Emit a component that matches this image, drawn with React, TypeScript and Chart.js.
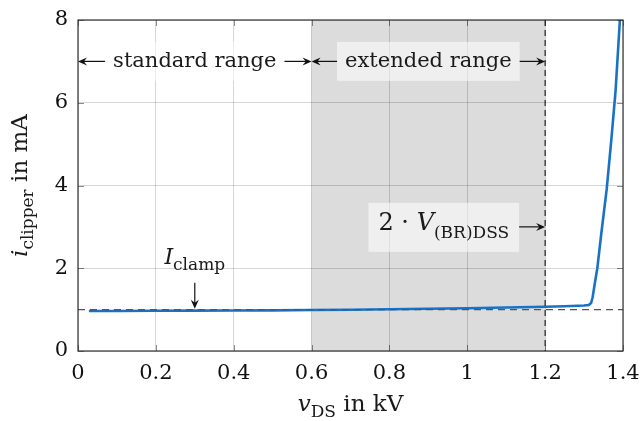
import React, { useEffect, useRef } from "react";
import { Chart, registerables } from "chart.js";

Chart.register(...registerables);

// ---- data ----
const vDS = [0.028, 0.1, 0.2, 0.3, 0.4, 0.5, 0.6, 0.7, 0.8, 0.9, 1.0, 1.1, 1.2, 1.25, 1.3, 1.312, 1.318, 1.322, 1.327, 1.334, 1.345, 1.358, 1.37, 1.381, 1.392];
const iClipper = [0.965, 0.968, 0.972, 0.975, 0.978, 0.983, 0.99, 0.998, 1.008, 1.02, 1.033, 1.05, 1.07, 1.082, 1.098, 1.11, 1.16, 1.3, 1.6, 2.0, 2.9, 3.9, 5.1, 6.3, 8.0];
const xTicks = [0, 0.2, 0.4, 0.6, 0.8, 1, 1.2, 1.4];
const yTicks = [0, 2, 4, 6, 8];
const standardRange = [0, 0.6];
const extendedRange = [0.6, 1.2];
const iClampLevel = 1.0;
const breakdownX = 1.2;
const rangeLabelY = 7;
const breakdownLabelY = 3;
const clampLabelX = 0.3;
const clampLabelY = 2.1;
const clampArrowFrom = 1.65;

type Seg = { t: string; font: string; dy?: number };

const SERIF = '"DejaVu Serif", serif';
const f = (size: number, italic = false) => `${italic ? "italic " : ""}${size}px ${SERIF}`;

function richWidth(ctx: CanvasRenderingContext2D, segs: Seg[]) {
  let w = 0;
  for (const s of segs) {
    ctx.font = s.font;
    w += ctx.measureText(s.t).width;
  }
  return w;
}

function drawRich(ctx: CanvasRenderingContext2D, segs: Seg[], x: number, y: number, align: "left" | "center" | "right") {
  const w = richWidth(ctx, segs);
  let cx = align === "left" ? x : align === "center" ? x - w / 2 : x - w;
  ctx.textAlign = "left";
  ctx.textBaseline = "alphabetic";
  for (const s of segs) {
    ctx.font = s.font;
    ctx.fillText(s.t, cx, y + (s.dy || 0));
    cx += ctx.measureText(s.t).width;
  }
  return w;
}

function arrow(ctx: CanvasRenderingContext2D, x1: number, y1: number, x2: number, y2: number) {
  const ang = Math.atan2(y2 - y1, x2 - x1);
  const len = 9;
  const hw = 4;
  ctx.save();
  ctx.strokeStyle = "#111";
  ctx.fillStyle = "#111";
  ctx.lineWidth = 1.2;
  ctx.beginPath();
  ctx.moveTo(x1, y1);
  ctx.lineTo(x2 - Math.cos(ang) * 4, y2 - Math.sin(ang) * 4);
  ctx.stroke();
  ctx.translate(x2, y2);
  ctx.rotate(ang);
  ctx.beginPath();
  ctx.moveTo(0, 0);
  ctx.lineTo(-len, -hw);
  ctx.lineTo(-len * 0.65, 0);
  ctx.lineTo(-len, hw);
  ctx.closePath();
  ctx.fill();
  ctx.restore();
}

const annotations = {
  id: "annotations",
  beforeDraw(chart: any) {
    const { ctx, chartArea, scales } = chart;
    const x = scales.x;
    ctx.save();
    ctx.fillStyle = "#dcdcdc";
    const a = x.getPixelForValue(extendedRange[0]);
    const b = x.getPixelForValue(extendedRange[1]);
    ctx.fillRect(a, chartArea.top, b - a, chartArea.bottom - chartArea.top);
    ctx.restore();
  },
  afterDraw(chart: any) {
    const { ctx, chartArea, scales } = chart;
    const x = scales.x;
    const y = scales.y;
    const { left, right, top, bottom } = chartArea;
    ctx.save();

    // dashed clamp level
    ctx.strokeStyle = "#555";
    ctx.lineWidth = 1.2;
    ctx.setLineDash([7, 5]);
    ctx.beginPath();
    const yc = y.getPixelForValue(iClampLevel);
    ctx.moveTo(left, yc);
    ctx.lineTo(right, yc);
    ctx.stroke();
    // dashed breakdown line
    ctx.strokeStyle = "#222";
    ctx.setLineDash([6, 4]);
    ctx.beginPath();
    const xb = x.getPixelForValue(breakdownX);
    ctx.moveTo(xb, top);
    ctx.lineTo(xb, bottom);
    ctx.stroke();
    ctx.setLineDash([]);

    // tick marks
    ctx.strokeStyle = "rgba(0,0,0,0.45)";
    ctx.lineWidth = 1;
    for (const v of xTicks) {
      const px = Math.round(x.getPixelForValue(v)) + 0.5;
      ctx.beginPath();
      ctx.moveTo(px, bottom);
      ctx.lineTo(px, bottom - 6);
      ctx.moveTo(px, top);
      ctx.lineTo(px, top + 6);
      ctx.stroke();
    }
    for (const v of yTicks) {
      const py = Math.round(y.getPixelForValue(v)) + 0.5;
      ctx.beginPath();
      ctx.moveTo(left, py);
      ctx.lineTo(left + 6, py);
      ctx.moveTo(right, py);
      ctx.lineTo(right - 6, py);
      ctx.stroke();
    }

    // frame
    ctx.strokeStyle = "#333";
    ctx.lineWidth = 1.2;
    ctx.strokeRect(left, top, right - left, bottom - top);

    ctx.fillStyle = "#1a1a1a";

    // range labels
    const yr = y.getPixelForValue(rangeLabelY);
    const ranges: [number[], string][] = [
      [standardRange, "standard range"],
      [extendedRange, "extended range"],
    ];
    for (const [r, label] of ranges) {
      const p0 = x.getPixelForValue(r[0]);
      const p1 = x.getPixelForValue(r[1]);
      const cx = (p0 + p1) / 2;
      ctx.font = f(21);
      const w = ctx.measureText(label).width;
      const bx0 = cx - w / 2 - 8;
      const bx1 = cx + w / 2 + 8;
      ctx.fillStyle = "rgba(255,255,255,0.55)";
      ctx.fillRect(bx0, yr - 19.5, bx1 - bx0, 39);
      ctx.fillStyle = "#1a1a1a";
      ctx.textAlign = "center";
      ctx.textBaseline = "alphabetic";
      ctx.fillText(label, cx, yr + 6);
      arrow(ctx, bx0, yr, p0, yr);
      arrow(ctx, bx1, yr, p1, yr);
    }

    // 2·V(BR)DSS label
    const yv = y.getPixelForValue(breakdownLabelY);
    const segsV: Seg[] = [
      { t: "2 · ", font: f(24) },
      { t: "V", font: f(24, true) },
      { t: "(BR)DSS", font: f(17), dy: 8 },
    ];
    const wv = richWidth(ctx, segsV);
    const bxr = xb - 26;
    const bxl = bxr - wv - 20;
    ctx.fillStyle = "rgba(255,255,255,0.55)";
    ctx.fillRect(bxl, yv - 24, bxr - bxl, 49);
    ctx.fillStyle = "#1a1a1a";
    drawRich(ctx, segsV, bxl + 10, yv + 3, "left");
    arrow(ctx, bxr, yv, xb, yv);

    // I_clamp label
    const xcl = x.getPixelForValue(clampLabelX);
    const segsI: Seg[] = [
      { t: "I", font: f(22, true) },
      { t: "clamp", font: f(17), dy: 6 },
    ];
    drawRich(ctx, segsI, xcl, y.getPixelForValue(clampLabelY), "center");
    arrow(ctx, xcl, y.getPixelForValue(clampArrowFrom), xcl, yc - 1);

    // axis titles
    const segsX: Seg[] = [
      { t: "v", font: f(23, true) },
      { t: "DS", font: f(17), dy: 6 },
      { t: " in kV", font: f(23) },
    ];
    drawRich(ctx, segsX, (left + right) / 2, 411, "center");

    ctx.save();
    ctx.translate(27, (top + bottom) / 2);
    ctx.rotate(-Math.PI / 2);
    const segsY: Seg[] = [
      { t: "i", font: f(23, true) },
      { t: "clipper", font: f(17), dy: 6 },
      { t: " in mA", font: f(23) },
    ];
    drawRich(ctx, segsY, 0, 0, "center");
    ctx.restore();

    ctx.restore();
  },
};

export default function App() {
  const ref = useRef<HTMLCanvasElement | null>(null);
  useEffect(() => {
    document.body.style.margin = "0";
    const canvas = ref.current!;
    const chart = new Chart(canvas, {
      type: "line",
      data: {
        datasets: [
          {
            data: vDS.map((v, i) => ({ x: v, y: iClipper[i] })),
            borderColor: "#1872c8",
            borderWidth: 2.6,
            pointRadius: 0,
            tension: 0,
            fill: false,
          },
        ],
      },
      options: {
        animation: false,
        responsive: false,
        devicePixelRatio: 1,
        layout: { padding: { top: 20, right: 18, left: 0, bottom: 0 } },
        plugins: { legend: { display: false }, tooltip: { enabled: false } },
        scales: {
          x: {
            type: "linear",
            min: 0,
            max: 1.4,
            afterBuildTicks: (s: any) => {
              s.ticks = xTicks.map((v) => ({ value: v }));
            },
            afterFit: (s: any) => {
              s.height = 70;
              s.paddingRight = 0;
              s.paddingLeft = 0;
            },
            grid: { color: "rgba(0,0,0,0.16)", lineWidth: 1, drawTicks: false },
            border: { display: false },
            ticks: {
              padding: 10,
              color: "#111",
              font: { family: SERIF, size: 21 },
              callback: (v: any) => String(Math.round(Number(v) * 10) / 10),
            },
          },
          y: {
            type: "linear",
            min: 0,
            max: 8,
            afterBuildTicks: (s: any) => {
              s.ticks = yTicks.map((v) => ({ value: v }));
            },
            afterFit: (s: any) => {
              s.width = 78;
              s.paddingTop = 0;
              s.paddingBottom = 0;
            },
            grid: { color: "rgba(0,0,0,0.16)", lineWidth: 1, drawTicks: false },
            border: { display: false },
            ticks: {
              padding: 10,
              color: "#111",
              font: { family: SERIF, size: 21 },
              callback: (v: any) => String(v),
            },
          },
        },
      },
      plugins: [annotations],
    });
    return () => chart.destroy();
  }, []);
  return (
    <div style={{ width: 641, height: 421 }}>
      <canvas ref={ref} width={641} height={421} style={{ display: "block" }} />
    </div>
  );
}
